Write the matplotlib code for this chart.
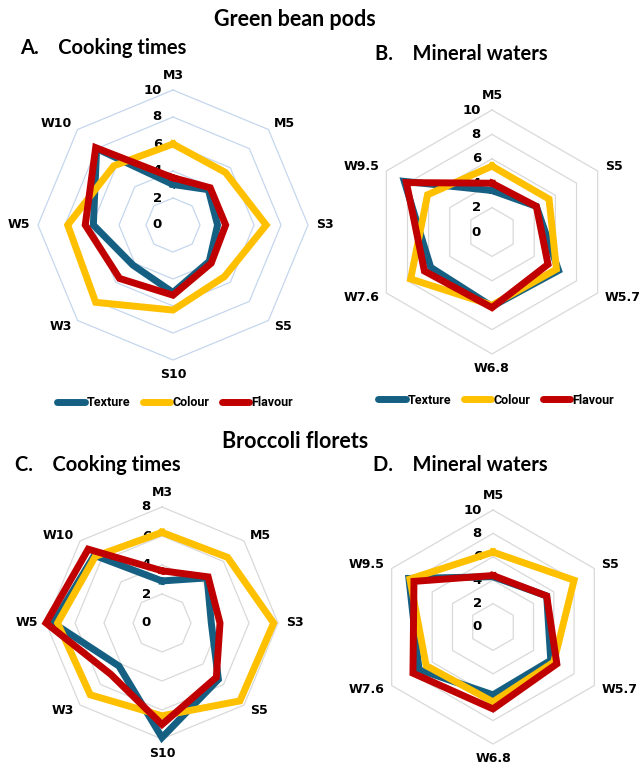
import numpy as np
import matplotlib.pyplot as plt
from matplotlib.lines import Line2D

# figure size in pixels
W, H = 642, 769

attributes = ['Texture', 'Colour', 'Flavour']
colors = ['#156082', '#FFC000', '#C00000']

# Green bean pods - cooking times
gb_times = ['M3', 'M5', 'S3', 'S5', 'S10', 'W3', 'W5', 'W10']
gb_times_texture = [3.0, 3.7, 3.3, 3.8, 5.0, 4.2, 5.9, 8.0]
gb_times_colour = [6.0, 5.5, 6.9, 5.4, 6.3, 8.1, 7.8, 6.2]
gb_times_flavour = [3.5, 3.9, 3.9, 4.0, 5.2, 5.6, 6.5, 8.1]

# Green bean pods - mineral waters
gb_waters = ['M5', 'S5', 'W5.7', 'W6.8', 'W7.6', 'W9.5']
gb_waters_texture = [3.4, 4.2, 6.3, 6.1, 5.8, 8.3]
gb_waters_colour = [5.4, 5.4, 6.1, 6.0, 7.7, 6.1]
gb_waters_flavour = [4.0, 4.2, 5.3, 6.2, 6.4, 8.1]

# Broccoli florets - cooking times
br_times = ['M3', 'M5', 'S3', 'S5', 'S10', 'W3', 'W5', 'W10']
br_times_texture = [2.9, 4.4, 3.4, 5.5, 7.9, 4.2, 7.5, 6.6]
br_times_colour = [6.25, 6.4, 7.7, 7.6, 6.4, 7.0, 7.2, 6.5]
br_times_flavour = [3.6, 4.5, 4.0, 5.3, 7.0, 5.0, 8.0, 7.2]

# Broccoli florets - mineral waters
br_waters = ['M5', 'S5', 'W5.7', 'W6.8', 'W7.6', 'W9.5']
br_waters_texture = [4.3, 5.3, 5.7, 5.8, 7.3, 8.3]
br_waters_colour = [6.4, 8.0, 6.0, 6.4, 6.6, 8.2]
br_waters_flavour = [4.4, 5.3, 6.3, 7.0, 7.9, 7.8]

plt.rcParams['font.family'] = 'DejaVu Sans'
fig = plt.figure(figsize=(W / 100, H / 100), dpi=100)


def radar(cx, cy, R, cats, series, rmax, grid_color):
    ax = fig.add_axes([(cx - R) / W, (H - cy - R) / H, 2 * R / W, 2 * R / H],
                      projection='polar')
    ax.set_theta_zero_location('N')
    ax.set_theta_direction(-1)
    ax.set_ylim(0, rmax)
    ax.grid(False)
    ax.spines['polar'].set_visible(False)
    ax.set_xticks([])
    ax.set_yticks([])
    ax.patch.set_alpha(0)

    theta = np.linspace(0, 2 * np.pi, len(cats), endpoint=False)
    closed = np.append(theta, theta[0])

    # polygon gridlines
    for r in range(2, rmax + 1, 2):
        ax.plot(closed, [r] * len(closed), color=grid_color, lw=0.9, zorder=1, clip_on=False)
    for r in range(0, rmax + 1, 2):
        ax.annotate(str(r), xy=(0, r), xytext=(-8, 0), textcoords='offset points',
                    ha='right', va='center', fontsize=9.5, fontweight='bold',
                    annotation_clip=False, zorder=2)

    # category labels around the outside
    for t, c in zip(theta, cats):
        s, co = np.sin(t), np.cos(t)
        ha = 'center' if abs(s) < 0.01 else ('left' if s > 0 else 'right')
        va = 'bottom' if co > 0.99 else ('top' if co < -0.99 else 'center')
        ax.annotate(c, xy=(t, rmax), xytext=(6 * s, 6 * co), textcoords='offset points',
                    ha=ha, va=va, fontsize=9, fontweight='bold', annotation_clip=False)

    for vals, col in zip(series, colors):
        ax.plot(closed, list(vals) + [vals[0]], color=col, lw=5,
                solid_joinstyle='miter', zorder=3, clip_on=False)
    return ax


radar(173, 225, 135, gb_times, [gb_times_texture, gb_times_colour, gb_times_flavour], 10, '#C5D7EE')
radar(492, 232, 122, gb_waters, [gb_waters_texture, gb_waters_colour, gb_waters_flavour], 10, '#D9D9D9')
radar(162, 623, 116, br_times, [br_times_texture, br_times_colour, br_times_flavour], 8, '#D9D9D9')
radar(493, 627, 117, br_waters, [br_waters_texture, br_waters_colour, br_waters_flavour], 10, '#D9D9D9')

title_font = dict(family='Lato', fontweight='bold')
fig.text(295 / W, 1 - 19 / H, 'Green bean pods', ha='center', va='center', fontsize=15.5, **title_font)
fig.text(295 / W, 1 - 442 / H, 'Broccoli florets', ha='center', va='center', fontsize=15.5, **title_font)
fig.text(20 / W, 1 - 48 / H, 'A.    Cooking times', ha='left', va='center', fontsize=14.5, **title_font)
fig.text(375 / W, 1 - 54 / H, 'B.    Mineral waters', ha='left', va='center', fontsize=14.5, **title_font)
fig.text(15 / W, 1 - 465 / H, 'C.    Cooking times', ha='left', va='center', fontsize=14.5, **title_font)
fig.text(373 / W, 1 - 465 / H, 'D.    Mineral waters', ha='left', va='center', fontsize=14.5, **title_font)

handles = [Line2D([0], [0], color=c, lw=5, solid_capstyle='round') for c in colors]
legend_font = {'family': 'Roboto', 'weight': 'bold', 'size': 9}
for x, y in [(175, 403), (496, 400)]:
    fig.legend(handles, attributes, loc='center', bbox_to_anchor=(x / W, 1 - y / H),
               ncol=3, frameon=False, handlelength=2.2, handletextpad=0.15,
               columnspacing=1.0, prop=legend_font)

fig.savefig('out.png', dpi=100)
